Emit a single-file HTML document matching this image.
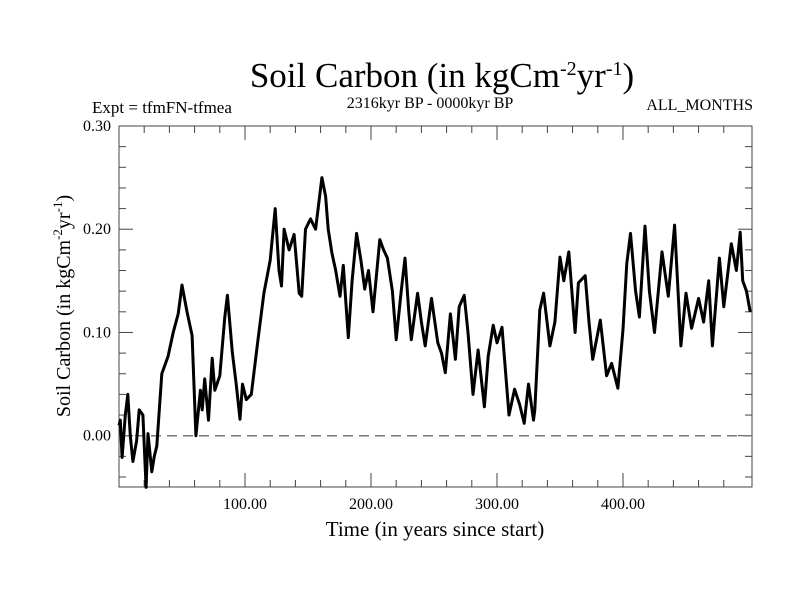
<!DOCTYPE html>
<html><head><meta charset="utf-8"><style>
body{margin:0;background:#fff}
svg{display:block;font-family:"Liberation Serif",serif}
</style></head><body>
<svg id="chart" width="800" height="600" viewBox="0 0 800 600">
<text x="442" y="87" font-size="35" text-anchor="middle">Soil Carbon (in kgCm<tspan dy="-12" font-size="20">-2</tspan><tspan dy="12">yr</tspan><tspan dy="-12" font-size="20">-1</tspan><tspan dy="12">)</tspan></text>
<text x="92" y="113" font-size="17">Expt = tfmFN-tfmea</text>
<text x="430" y="108" font-size="16" text-anchor="middle">2316kyr BP - 0000kyr BP</text>
<text x="753" y="110" font-size="16" text-anchor="end">ALL_MONTHS</text>
<text x="435" y="536" font-size="21" text-anchor="middle">Time (in years since start)</text>
<text transform="translate(70,306) rotate(-90)" font-size="20" text-anchor="middle">Soil Carbon (in kgCm<tspan dy="-8" font-size="13">-2</tspan><tspan dy="8">yr</tspan><tspan dy="-8" font-size="13">-1</tspan><tspan dy="8">)</tspan></text>
<g id="axes"></g>
<g id="series"></g>
</svg>
<script>
const timeVals=[0,1,2.5,5,7,9,11,14,16,19,21.5,23,26,28,30,34,39,43,47,50,54,58,61,64.6,66,68,71,74,76,80,84,86,90,93,96,98,101,105,110,115,120,124,127,129,131,135,139,143,145,148,152,156,161,164,166,169,172,175.4,178,182,185,188.6,192,195,198,201.6,207,210,213,217,220,224,227,230,232,237,240,243,248,253,256,259,263,267,270,274,277,281,285,290,293,297,300,304,309.5,314,318,321.6,325,329,330,334,337,342,346,350,353,357,362,364.6,370,373,376,382,387,391,396,400,403,406,410,413,417.5,421,425,431,436,441,446,450,454.5,460,464,468,471,476.5,480,486,490,493,495,498,501];
const carbonVals=[0.01,0.015,-0.021,0.02,0.04,0.0,-0.025,-0.005,0.025,0.02,-0.05,0.002,-0.035,-0.02,-0.01,0.06,0.077,0.1,0.118,0.146,0.12,0.097,0.0,0.044,0.025,0.055,0.015,0.075,0.044,0.058,0.115,0.136,0.08,0.05,0.016,0.05,0.035,0.04,0.09,0.138,0.17,0.22,0.16,0.145,0.2,0.18,0.195,0.138,0.135,0.2,0.21,0.2,0.25,0.232,0.2,0.177,0.16,0.135,0.165,0.095,0.15,0.196,0.17,0.142,0.16,0.12,0.19,0.18,0.172,0.14,0.093,0.14,0.172,0.12,0.093,0.138,0.11,0.087,0.133,0.09,0.08,0.061,0.118,0.074,0.125,0.136,0.1,0.04,0.083,0.028,0.077,0.107,0.09,0.105,0.02,0.045,0.03,0.012,0.05,0.015,0.025,0.122,0.138,0.087,0.11,0.173,0.15,0.178,0.1,0.148,0.155,0.11,0.074,0.112,0.058,0.07,0.046,0.103,0.167,0.196,0.14,0.115,0.203,0.14,0.1,0.178,0.135,0.204,0.087,0.138,0.104,0.133,0.11,0.15,0.087,0.172,0.125,0.186,0.16,0.197,0.15,0.14,0.12];
const xTickVals=[100,200,300,400];
const xTickLabels=["100.00","200.00","300.00","400.00"];
const yTickVals=[0,0.1,0.2,0.3];
const yTickLabels=["0.00","0.10","0.20","0.30"];

const L=119,R=752,T=126,B=487,XMIN=0,XMAX=502.4,YMIN=-0.0497,YMAX=0.30;
const sx=v=>L+(v-XMIN)/(XMAX-XMIN)*(R-L);
const sy=v=>B-(v-YMIN)/(YMAX-YMIN)*(B-T);
const NS='http://www.w3.org/2000/svg';
const axes=document.getElementById('axes'),series=document.getElementById('series');
function mk(tag,attrs,parent){const e=document.createElementNS(NS,tag);for(const k in attrs)e.setAttribute(k,attrs[k]);parent.appendChild(e);return e;}

const frame=mk('rect',{x:L,y:T,width:R-L,height:B-T,fill:'none',stroke:'#444','stroke-width':1},axes);



for(let v=20;v<XMAX-5;v+=20){
  const major=v%100===0,len=major?14:7,x=sx(v);
  const t1=mk('line',{x1:x,x2:x,y1:B,y2:B-len,stroke:'#444'},axes);
  
  
  const t2=mk('line',{x1:x,x2:x,y1:T,y2:T+len,stroke:'#444'},axes);
  
  
}
for(let i=-2;i<=15;i++){
  const v=i*0.02;if(v<YMIN||v>YMAX+1e-9)continue;
  const major=i%5===0,len=major?14:7,y=sy(v);
  const t1=mk('line',{x1:L,x2:L+len,y1:y,y2:y,stroke:'#444'},axes);
  
  
  const t2=mk('line',{x1:R,x2:R-len,y1:y,y2:y,stroke:'#444'},axes);
  
  
}
xTickVals.forEach((v,i)=>{
  const t=mk('text',{x:sx(v),y:509,'font-size':16,'text-anchor':'middle'},axes);
  t.textContent=xTickLabels[i];
  
  
});
yTickVals.forEach((v,i)=>{
  const t=mk('text',{x:111,y:sy(v)+5,'font-size':16,'text-anchor':'end'},axes);
  t.textContent=yTickLabels[i];
  
  
});
const zl=mk('line',{x1:L,x2:R,y1:sy(0),y2:sy(0),stroke:'#777','stroke-width':1.5,'stroke-dasharray':'10,6'},series);



const d=timeVals.map((t,i)=>(i?'L':'M')+sx(t).toFixed(1)+','+sy(carbonVals[i]).toFixed(1)).join(' ');
const p=mk('path',{d:d,fill:'none',stroke:'#000','stroke-width':3,'stroke-linejoin':'round'},series);


</script>
</body></html>
